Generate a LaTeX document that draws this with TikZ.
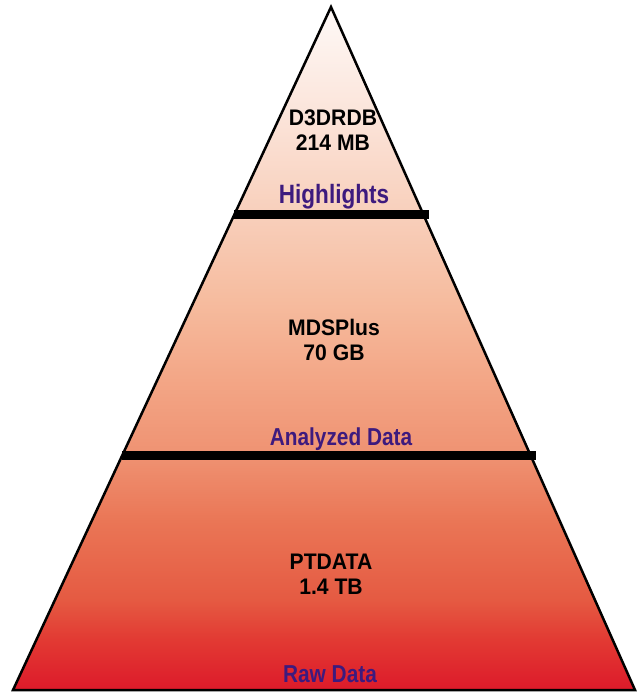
\documentclass[tikz,border=0pt]{standalone}
\usepackage{fontspec}
\newfontfamily\dbfont{Liberation Sans}[FakeStretch=0.94]
\newfontfamily\tierfont{Liberation Sans}[FakeStretch=0.85]
\usepackage{xcolor}
\definecolor{tierpurple}{HTML}{3D1A7E}
\definecolor{pyrA}{HTML}{DD1A2A}
\definecolor{pyrB}{HTML}{E23A33}
\definecolor{pyrC}{HTML}{E55A42}
\definecolor{pyrD}{HTML}{EA7656}
\definecolor{pyrE}{HTML}{EF9272}
\definecolor{pyrF}{HTML}{F3A686}
\definecolor{pyrG}{HTML}{F6BC9F}
\definecolor{pyrH}{HTML}{F8CFBB}
\definecolor{pyrI}{HTML}{FBE3D8}
\definecolor{pyrJ}{HTML}{FEF9F7}
\usepackage{tikz}
\usetikzlibrary{calc}
\pgfdeclareverticalshading{pyramidfill}{100bp}{color(0bp)=(pyrA); color(25bp)=(pyrA);
  color(28.7bp)=(pyrB); color(31.6bp)=(pyrC); color(37.4bp)=(pyrD); color(42.2bp)=(pyrE);
  color(47.7bp)=(pyrF); color(53.6bp)=(pyrG); color(59.8bp)=(pyrH); color(66.7bp)=(pyrI);
  color(75bp)=(pyrJ); color(100bp)=(pyrJ)}

\begin{document}
\begin{tikzpicture}[x=1pt,y=-1pt,
  splitbar/.style={line width=9pt,shorten >=-5pt},
  dbname/.style={font=\dbfont\bfseries\fontsize{22.5}{25}\selectfont,align=center,inner sep=0pt},
  tiername/.style={font=\tierfont\bfseries\fontsize{24.5}{27}\selectfont,text=tierpurple,inner sep=0pt,anchor=base}]
\useasboundingbox (0,0) rectangle (636,692);
\coordinate (apex) at (331,7);
\coordinate (bl) at (13,690);
\coordinate (br) at (635,690);
\shade[shading=pyramidfill] (apex) -- (bl) -- (br) -- cycle;
\draw[line width=2.5pt] (apex) -- (bl) -- (br) -- cycle;
\draw[splitbar] ($(apex)!0.3045!(bl)$) -- ($(apex)!0.3045!(br)$);
\draw[splitbar] ($(apex)!0.6567!(bl)$) -- ($(apex)!0.6567!(br)$);
\node[dbname] (d3drdb) at (333,130.5) {D3DRDB\\214 MB};
\node[dbname] (mdsplus) at (334,340) {MDSPlus\\70 GB};
\node[dbname] (ptdata) at (331,574) {PTDATA\\1.4 TB};
\node[tiername,font=\tierfont\bfseries\fontsize{26.5}{29}\selectfont] (highlights) at (334,204) {Highlights};
\node[tiername] (analyzed) at (341,445) {Analyzed Data};
\node[tiername] (raw) at (330,682) {Raw Data};
\end{tikzpicture}
\end{document}
